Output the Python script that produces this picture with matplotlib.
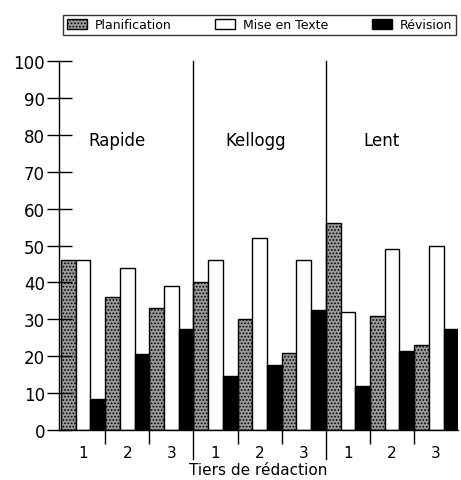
import matplotlib.pyplot as plt
import matplotlib.transforms as mtransforms
import numpy as np

SECTIONS = ["Rapide", "Kellogg", "Lent"]
TIERS = ["1", "2", "3"]
SERIES = ["Planification", "Mise en Texte", "Révision"]

# one value per (section, tier), in reading order
planification = [46, 36, 33, 40, 30, 21, 56, 31, 23]
mise_en_texte = [46, 44, 39, 46, 52, 46, 32, 49, 50]
revision = [8.5, 20.5, 27.5, 14.5, 17.5, 32.5, 12, 21.5, 27.5]

plt.rcParams["hatch.color"] = "black"
plt.rcParams["hatch.linewidth"] = 0.8

fig = plt.figure(figsize=(4.61, 4.81), dpi=100)
ax = fig.add_axes([0.128, 0.104, 0.866, 0.767])

n = len(planification)
base = np.arange(n) * 3
styles = [
    dict(facecolor="#9a9a9a", hatch="....."),
    dict(facecolor="white"),
    dict(facecolor="black"),
]
handles = []
for k, (name, vals, st) in enumerate(zip(SERIES, [planification, mise_en_texte, revision], styles)):
    h = ax.bar(base + k, vals, width=1.0, align="edge", edgecolor="black",
               linewidth=1.0, label=name, **st)
    handles.append(h)

ax.set_xlim(-0.14, 27)
ax.set_ylim(0, 100)
ax.set_yticks(np.arange(0, 101, 10))
ax.tick_params(axis="y", direction="inout", length=18, width=1, labelsize=12, pad=1)

# group boundaries as short ticks, tier numbers centred under each group
bounds = [3, 6, 12, 15, 21, 24]
ax.set_xticks(bounds)
ax.set_xticklabels([])
ax.tick_params(axis="x", which="major", direction="out", length=10, width=1)
ax.set_xticks(base + 1.5, minor=True)
ax.set_xticklabels(TIERS * 3, minor=True)
ax.tick_params(axis="x", which="minor", length=0, labelsize=11, pad=11)

for s in ["top", "right"]:
    ax.spines[s].set_visible(False)
for s in ["left", "bottom"]:
    ax.spines[s].set_linewidth(1.0)

trans = mtransforms.blended_transform_factory(ax.transData, ax.transAxes)
for xs in [9, 18]:
    ax.plot([xs, xs], [-0.08, 1.0], color="black", linewidth=1.0,
            transform=trans, clip_on=False)

for i, name, dx in zip(range(3), SECTIONS, [3.8, 4.2, 3.8]):
    ax.text(i * 9 + dx, 78.6, name, ha="center", va="center", fontsize=12)

ax.set_xlabel("Tiers de rédaction", fontsize=11, labelpad=1)

leg = fig.legend(handles=handles, labels=SERIES, loc="lower left",
                 bbox_to_anchor=(63 / 461, 1 - 36 / 481, 393 / 461, 22 / 481),
                 mode="expand", ncol=3, fontsize=9,
                 frameon=True, fancybox=False, edgecolor="black",
                 handlelength=1.6, handleheight=0.8, handletextpad=0.6,
                 borderpad=0.3, borderaxespad=0)
leg.get_frame().set_linewidth(1.0)

fig.savefig("out.png", dpi=100)
